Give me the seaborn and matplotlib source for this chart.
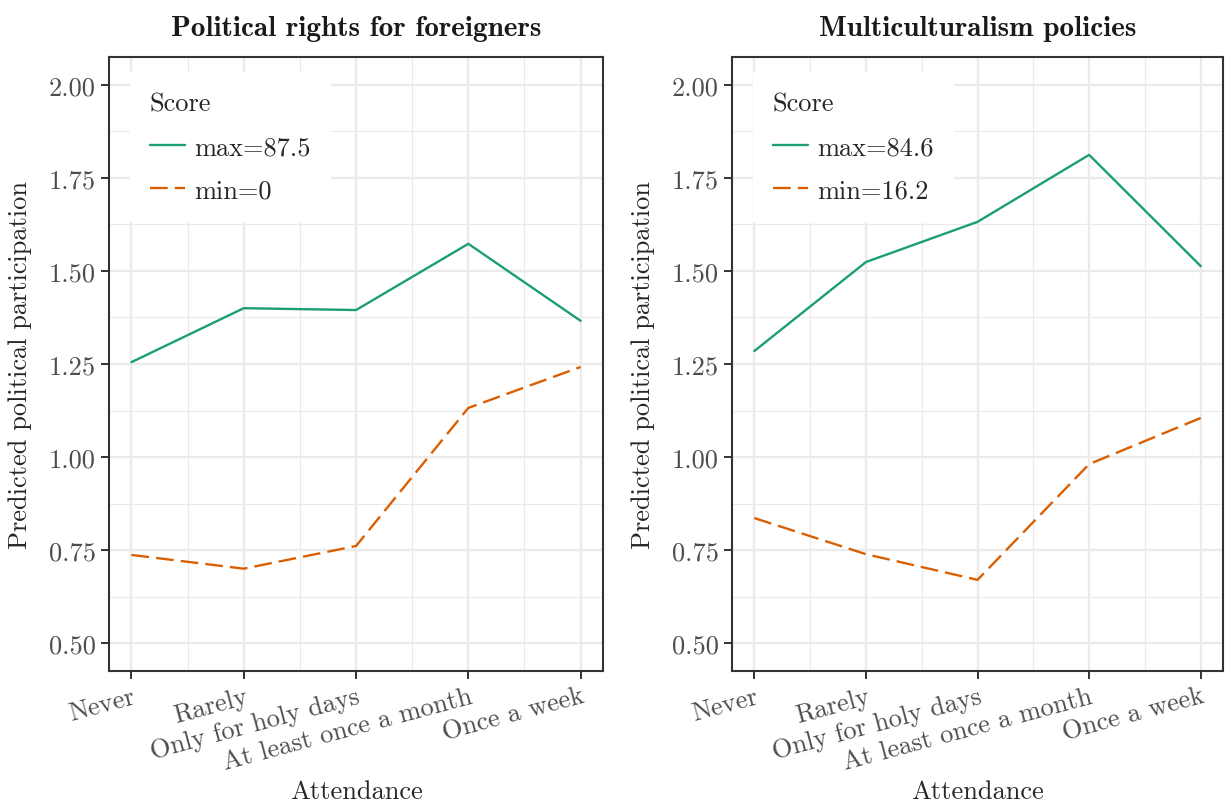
import pandas as pd
import matplotlib
matplotlib.use("Agg")
import matplotlib.pyplot as plt
from matplotlib.ticker import FixedLocator
import seaborn as sns

# values
attendance = ["Never", "Rarely", "Only for holy days", "At least once a month", "Once a week"]

rights_max = [1.255, 1.400, 1.395, 1.573, 1.366]
rights_min = [0.737, 0.700, 0.761, 1.132, 1.242]
rights_labels = ["max=87.5", "min=0"]

multi_max = [1.285, 1.524, 1.632, 1.812, 1.513]
multi_min = [0.836, 0.739, 0.670, 0.981, 1.105]
multi_labels = ["max=84.6", "min=16.2"]

panel_titles = ["Political rights for foreigners", "Multiculturalism policies"]
y_ticks = [0.50, 0.75, 1.00, 1.25, 1.50, 1.75, 2.00]

green = "#1B9E77"
orange = "#D95F02"

sns.set_theme(style="ticks")
plt.rcParams["font.family"] = ["cmr10", "DejaVu Serif"]
plt.rcParams["mathtext.fontset"] = "cm"
plt.rcParams["axes.formatter.use_mathtext"] = True

fig = plt.figure(figsize=(12.25, 8.03), dpi=100)
positions = [[0.0890, 0.1631, 0.4033, 0.7647], [0.5976, 0.1631, 0.4008, 0.7647]]
panels = [(rights_max, rights_min, rights_labels), (multi_max, multi_min, multi_labels)]

for pos, title, (vmax, vmin, labels) in zip(positions, panel_titles, panels):
    ax = fig.add_axes(pos)
    df = pd.DataFrame({
        "Attendance": attendance + attendance,
        "Predicted": vmax + vmin,
        "Score": [labels[0]] * len(vmax) + [labels[1]] * len(vmin),
    })
    sns.lineplot(data=df, x="Attendance", y="Predicted", hue="Score", style="Score",
                 hue_order=labels, style_order=labels, palette=[green, orange],
                 dashes={labels[0]: "", labels[1]: (7.5, 3.0)}, linewidth=1.7,
                 sort=False, errorbar=None, ax=ax)

    ax.set_xlim(-0.2, 4.2)
    ax.set_ylim(0.425, 2.075)
    ax.set_yticks(y_ticks)
    ax.set_yticklabels([f"{v:.2f}" for v in y_ticks])
    ax.yaxis.set_minor_locator(FixedLocator([(a + b) / 2 for a, b in zip(y_ticks[:-1], y_ticks[1:])]))
    ax.set_xticks(range(len(attendance)))
    ax.set_xticklabels(attendance, rotation=15, ha="right", va="top", rotation_mode="anchor")
    ax.xaxis.set_minor_locator(FixedLocator([i + 0.5 for i in range(len(attendance) - 1)]))

    ax.grid(which="major", color="#EBEBEB", linewidth=1.7)
    ax.grid(which="minor", color="#EBEBEB", linewidth=0.85)
    ax.set_axisbelow(True)
    for sp in ax.spines.values():
        sp.set_visible(True)
        sp.set_color("#333333")
        sp.set_linewidth(1.5)
    ax.tick_params(which="major", length=5.5, width=1.4, color="#333333",
                   labelsize=19, labelcolor="#4D4D4D", pad=4)
    ax.tick_params(which="minor", length=0)

    ax.set_title(title, fontfamily="cmb10", fontsize=21, pad=16, color="#1A1A1A")
    ax.set_xlabel("Attendance", fontsize=19)
    ax.set_ylabel("Predicted political participation", fontsize=19)
    ax.xaxis.set_label_coords(0.5, -0.176)
    ax.yaxis.set_label_coords(-0.156, 0.5)

    sns.move_legend(ax, "upper left", bbox_to_anchor=(0.0425, 0.9756), borderaxespad=0,
                    title="Score", frameon=True, fancybox=False, framealpha=1,
                    facecolor="white", edgecolor="none", fontsize=19, title_fontsize=19,
                    handlelength=1.35, handletextpad=0.35, labelspacing=0.75,
                    borderpad=0.75, alignment="left")

fig.savefig("out.png", dpi=100)
